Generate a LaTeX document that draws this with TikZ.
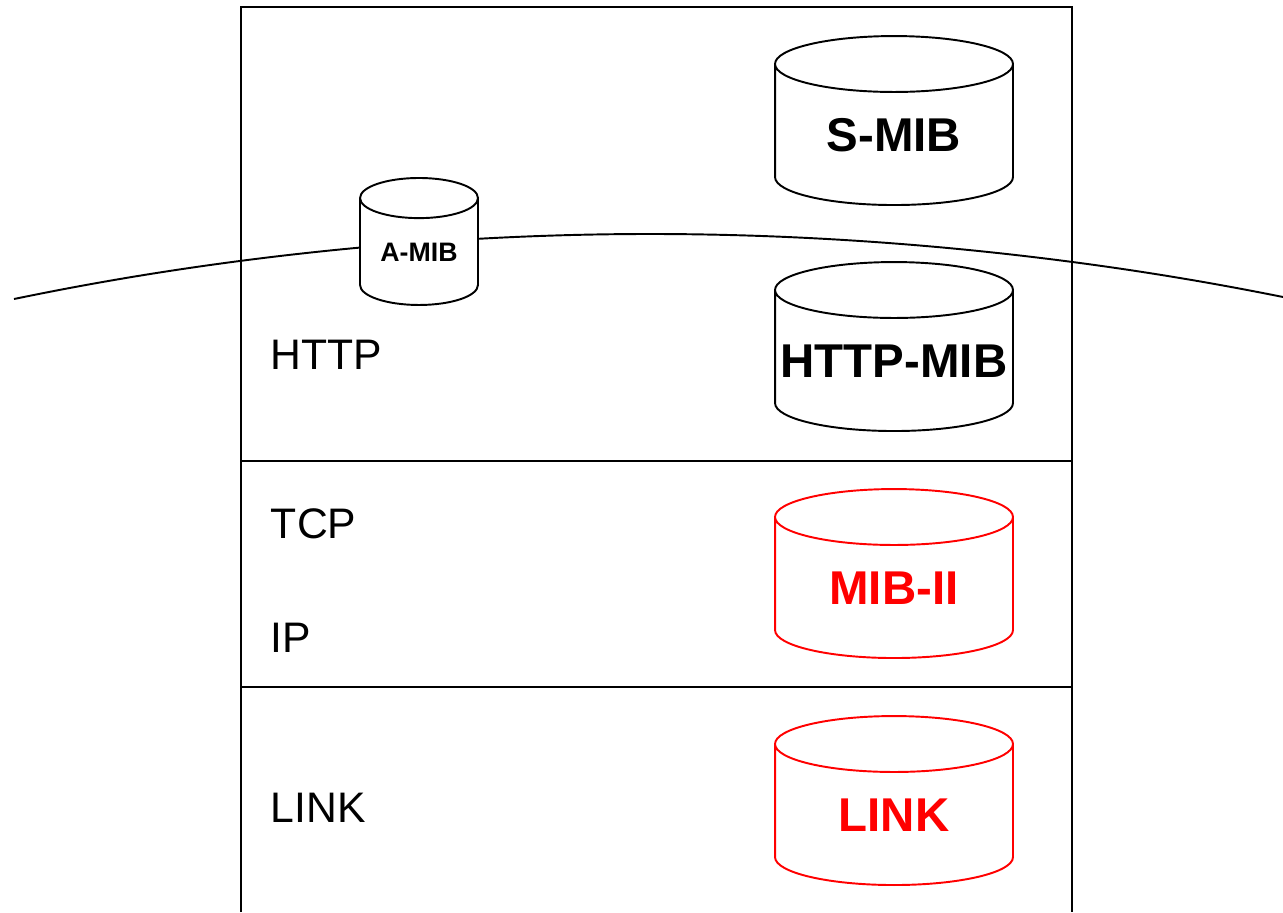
\documentclass[tikz,border=0pt]{standalone}
\usepackage{fontspec}
\setmainfont{Liberation Sans}
\usetikzlibrary{shapes.geometric}
\definecolor{mibred}{RGB}{255, 0, 0}

\tikzset{
    mib/.style={cylinder, shape border rotate=90, draw, line width=1.1pt, fill=white,
        aspect=0.235, text width=4.76cm, align=center, minimum height=3.38cm, inner sep=0pt,
        font=\fontsize{27}{29}\selectfont\bfseries},
    stdmib/.style={mib, draw=mibred, text=mibred},
    layer/.style={anchor=west, inner sep=0pt, font=\fontsize{24.3}{26}\selectfont}
}

\begin{document}
\begin{tikzpicture}[x=0.02cm, y=-0.02cm, line width=1.1pt]
    \useasboundingbox (0,0) rectangle (1283,912);

    % protocol stack
    \draw (241,912) |- (1072,7) -- (1072,912);
    \draw (241,461) -- (1072,461);
    \draw (241,687) -- (1072,687);

    % application boundary
    \draw (14,299) parabola bend (650,234) (1283,297);

    \node[layer] (http) at (270,355) {HTTP};
    \node[layer] (tcp) at (270,524) {TCP};
    \node[layer] (ip) at (270,638) {IP};
    \node[layer] (link) at (270,808) {LINK};

    \node[mib] (smib) at (894,135) {S-MIB};
    \node[mib] (httpmib) at (894,361) {HTTP-MIB};
    \node[stdmib] (mibii) at (894,588) {MIB-II};
    \node[stdmib] (linkmib) at (894,815) {LINK};
    \node[mib, aspect=0.34, text width=2.36cm, minimum height=2.54cm,
        font=\fontsize{15.2}{17}\selectfont\bfseries] (amib) at (419,252) {A-MIB};
\end{tikzpicture}
\end{document}
